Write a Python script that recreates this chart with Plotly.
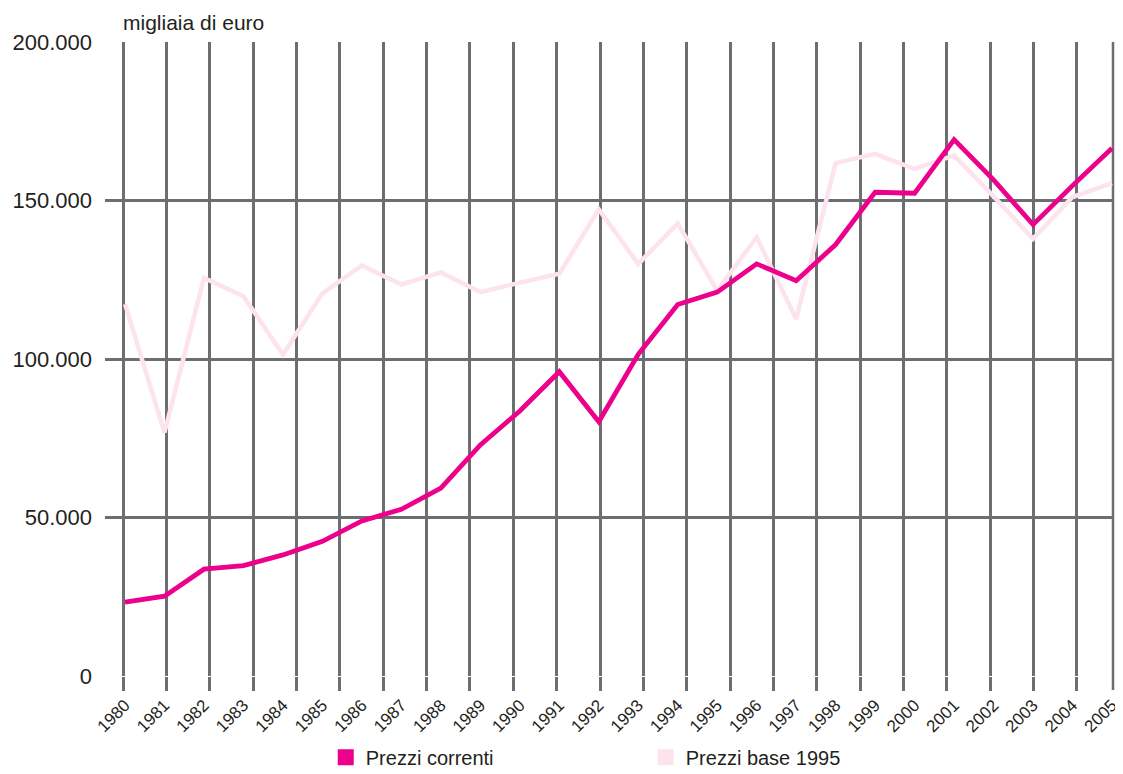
import plotly.graph_objects as go

years = list(range(1980, 2006))
year_labels = [str(y) for y in years]
prezzi_correnti = [23300, 25200, 33700, 34800, 38200, 42500, 48900, 52600, 59300, 72900,
                   83600, 96000, 80200, 101500, 117200, 121100, 130000, 124700, 136100, 152600,
                   152300, 169200, 156500, 142400, 154700, 166500]
prezzi_base_1995 = [117300, 76800, 125600, 119800, 101400, 120700, 129500, 123500, 127300, 121100,
                    124100, 126900, 147200, 130000, 142800, 121600, 138400, 112600, 161800, 164700,
                    160000, 164200, 151300, 137900, 151100, 155500]
y_ticks = [0, 50000, 100000, 150000, 200000]
y_tick_labels = ["0", "50.000", "100.000", "150.000", "200.000"]

MAGENTA = "#EC008C"
PINK = "#FCE3EE"
GRID = "#6D6E71"
FONT = "Liberation Sans, Arial, sans-serif"

fig = go.Figure()
fig.add_trace(go.Scatter(x=years, y=prezzi_base_1995, mode="lines",
                         line=dict(color=PINK, width=4.5), showlegend=False, hoverinfo="skip"))
fig.add_trace(go.Scatter(x=years, y=prezzi_correnti, mode="lines",
                         line=dict(color=MAGENTA, width=4.8), showlegend=False, hoverinfo="skip"))
# legend entries
fig.add_trace(go.Scatter(x=[None], y=[None], mode="markers", name="Prezzi correnti",
                         marker=dict(symbol="square", size=17, color=MAGENTA)))
fig.add_trace(go.Scatter(x=[None], y=[None], mode="markers", name="Prezzi base 1995",
                         marker=dict(symbol="square", size=17, color=PINK)))
# invisible trace to activate decorative grid axis
fig.add_trace(go.Scatter(x=[None], y=[None], xaxis="x2", showlegend=False, hoverinfo="skip"))

xr = [1979.493, 2005.025]
fig.update_layout(
    width=1115, height=766,
    margin=dict(l=97, r=10, t=34, b=98, autoexpand=False),
    paper_bgcolor="white", plot_bgcolor="white",
    font=dict(family=FONT, color="#231F20"),
    xaxis=dict(range=xr, tickmode="array", tickvals=years, ticktext=year_labels,
               tickangle=-45, showgrid=False, zeroline=False, ticks="", automargin=False,
               ticklabelstandoff=15,
               tickfont=dict(size=17, family=FONT, color="#231F20")),
    xaxis2=dict(range=xr, overlaying="x", tickmode="linear", tick0=1979.95, dtick=1.0983,
                showgrid=True, gridcolor=GRID, gridwidth=2.5, showticklabels=False,
                ticks="outside", ticklen=14, tickwidth=2.5, tickcolor=GRID, zeroline=False,
                automargin=False, layer="below traces"),
    yaxis=dict(range=[0, 200000], tickmode="array", tickvals=y_ticks, ticktext=y_tick_labels,
               showgrid=True, gridcolor=GRID, gridwidth=2.5, zeroline=False, ticks="",
               automargin=False, ticklabelstandoff=12,
               tickfont=dict(size=22, family=FONT, color="#231F20")),
    legend=dict(orientation="h", x=0.219, xanchor="left", yref="container", y=0.022,
                yanchor="middle",
                entrywidth=275, entrywidthmode="pixels", font=dict(size=20, family=FONT, color="#231F20"),
                bgcolor="rgba(0,0,0,0)"),
    annotations=[dict(text="migliaia di euro", xref="paper", yref="paper", x=0.016, y=1,
                      xanchor="left", yanchor="bottom", yshift=6, showarrow=False,
                      font=dict(size=21, family=FONT, color="#231F20"))],
    shapes=[dict(type="line", xref="paper", yref="paper", x0=1, x1=1, y0=-14/634, y1=1,
                 line=dict(color=GRID, width=2.5), layer="below")],
)

fig.write_html("out.html")
